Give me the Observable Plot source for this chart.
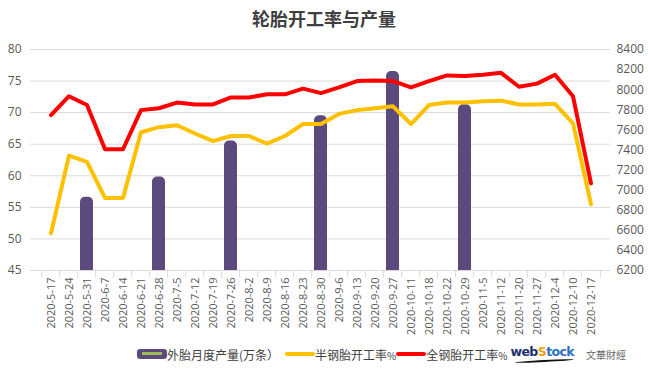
<!DOCTYPE html>
<html>
<head>
<meta charset="utf-8">
<script src="https://cdn.jsdelivr.net/npm/d3@7"></script>
<script src="https://cdn.jsdelivr.net/npm/@observablehq/plot@0.6"></script>
<style>
  html, body { margin: 0; padding: 0; background: #fff; }
  body { width: 648px; height: 374px; overflow: hidden; font-family: "Noto Sans CJK SC", "Noto Sans", sans-serif; }
  #title { height: 36px; line-height: 36px; text-align: center; font-size: 18px; font-weight: bold; color: #404040; }
  #legend { display: flex; align-items: center; height: 24px; margin-top: 6px; padding-left: 137px; font-size: 12px; color: #404040; white-space: nowrap; }
  .sw { display: inline-block; }
  .pct { font-size: 10px; }
</style>
</head>
<body>
<div id="title">轮胎开工率与产量</div>
<div id="chart"></div>
<div id="legend">
  <span class="sw" style="width:30px;height:10px;background:#5c4a7d;border-radius:3px;position:relative;">
    <span style="position:absolute;left:5px;right:5px;top:3px;height:3px;background:#9bbb59;"></span>
  </span>
  <span>外胎月度产量(万条）</span>
  <span class="sw" style="width:30px;height:4px;background:#ffc000;margin-left:6px;border-radius:2px;"></span>
  <span>半钢胎开工率<span class="pct">%</span></span>
  <span class="sw" style="width:30px;height:4px;background:#ff0000;margin-left:0px;border-radius:2px;"></span>
  <span>全钢胎开工率<span class="pct">%</span></span>
  <span style="margin-left:3px;font-family:'DejaVu Sans',sans-serif;font-weight:bold;font-size:12.5px;letter-spacing:-0.6px;position:relative;top:-3px;">
    <span style="color:#1c2e6e;">web</span><span style="color:#f5a000;">S</span><span style="color:#2c6fc4;">tock</span>
    <span style="position:absolute;left:4px;right:0;bottom:-3px;height:2px;background:#111;border-radius:50%;transform:rotate(-3deg);"></span>
  </span>
  <span style="margin-left:12px;font-size:10px;color:#666;">文華財經</span>
</div>
<script>
const dates = ["2020-5-17","2020-5-24","2020-5-31","2020-6-7","2020-6-14","2020-6-21","2020-6-28","2020-7-5","2020-7-12","2020-7-19","2020-7-26","2020-8-2","2020-8-9","2020-8-16","2020-8-23","2020-8-30","2020-9-6","2020-9-13","2020-9-20","2020-9-27","2020-10-11","2020-10-18","2020-10-22","2020-10-29","2020-11-5","2020-11-12","2020-11-20","2020-11-27","2020-12-4","2020-12-10","2020-12-17"];
const semiSteel = [50.9,63.2,62.2,56.5,56.5,66.9,67.7,68.0,66.7,65.5,66.3,66.3,65.1,66.3,68.2,68.2,69.8,70.4,70.7,71.0,68.2,71.2,71.6,71.6,71.8,71.9,71.3,71.3,71.4,68.3,55.5];
const allSteel = [69.6,72.6,71.2,64.2,64.2,70.4,70.7,71.6,71.3,71.3,72.4,72.4,72.9,72.9,73.8,73.1,74.0,75.0,75.1,75.0,74.0,75.0,75.9,75.8,76.0,76.3,74.1,74.6,76.0,72.6,58.8];
const barDates = ["2020-5-31","2020-6-28","2020-7-26","2020-8-30","2020-9-27","2020-10-29"];
const barValues = [6930,7130,7490,7740,8180,7850];
const leftTicks = [45,50,55,60,65,70,75,80];
const rightTicks = [6200,6400,6600,6800,7000,7200,7400,7600,7800,8000,8200,8400];

// map right-axis values onto the left scale
const L0 = 45, L1 = 80, R0 = 6200, R1 = 8400;
const toLeft = v => L0 + (v - R0) / (R1 - R0) * (L1 - L0);
const toRight = v => R0 + (v - L0) / (L1 - L0) * (R1 - R0);

const bars = barDates.map((d, i) => ({date: d, value: toLeft(barValues[i])}));
const semi = dates.map((d, i) => ({date: d, value: semiSteel[i]}));
const full = dates.map((d, i) => ({date: d, value: allSteel[i]}));

const tickFont = {fontSize: 12, fill: "#595959", fontFamily: "'Open Sans', 'Noto Sans', sans-serif"};
const step = 580 / dates.length;

const chart = Plot.plot({
  width: 648,
  height: 300,
  marginTop: 13,
  marginBottom: 66,
  marginLeft: 30,
  marginRight: 38,
  style: {background: "#fff", overflow: "visible"},
  x: {type: "band", domain: dates, paddingInner: 0.29, paddingOuter: 0.145, axis: null, label: null},
  y: {domain: [L0, L1], axis: null, label: null},
  marks: [
    Plot.ruleY(leftTicks, {y: d => d, stroke: "#d9d9d9", strokeWidth: 1}),
    Plot.ruleX(dates, {x: d => d, dx: -step / 2, y1: 45, y2: 43.8, stroke: "#d9d9d9"}),
    Plot.ruleX([dates[dates.length - 1]], {x: d => d, dx: step / 2, y1: 45, y2: 43.8, stroke: "#d9d9d9"}),
    Plot.barY(bars, {x: "date", y1: L0, y2: "value", fill: "#5c4a7d", rx: 5}),
    Plot.barY(bars, {x: "date", y1: L0, y2: d => Math.min(d.value, L0 + 1), fill: "#5c4a7d"}),
    Plot.lineY(semi, {x: "date", y: "value", stroke: "#ffc000", strokeWidth: 4, strokeLinejoin: "round", strokeLinecap: "round"}),
    Plot.lineY(full, {x: "date", y: "value", stroke: "#ff0000", strokeWidth: 4, strokeLinejoin: "round", strokeLinecap: "round"}),
    Plot.axisY(leftTicks, {anchor: "left", label: null, tickSize: 0, tickPadding: 9, ...tickFont, tickFormat: d => String(d)}),
    Plot.axisY(rightTicks.map(toLeft), {anchor: "right", label: null, tickSize: 0, tickPadding: 6, ...tickFont, tickFormat: d => String(Math.round(toRight(d)))}),
    Plot.axisX(dates, {anchor: "bottom", label: null, tickSize: 0, tickPadding: 7, tickRotate: -90, fontSize: 11, fill: "#595959", fontFamily: "'Open Sans', 'Noto Sans', sans-serif"})
  ]
});
document.getElementById("chart").appendChild(chart);
</script>
</body>
</html>
